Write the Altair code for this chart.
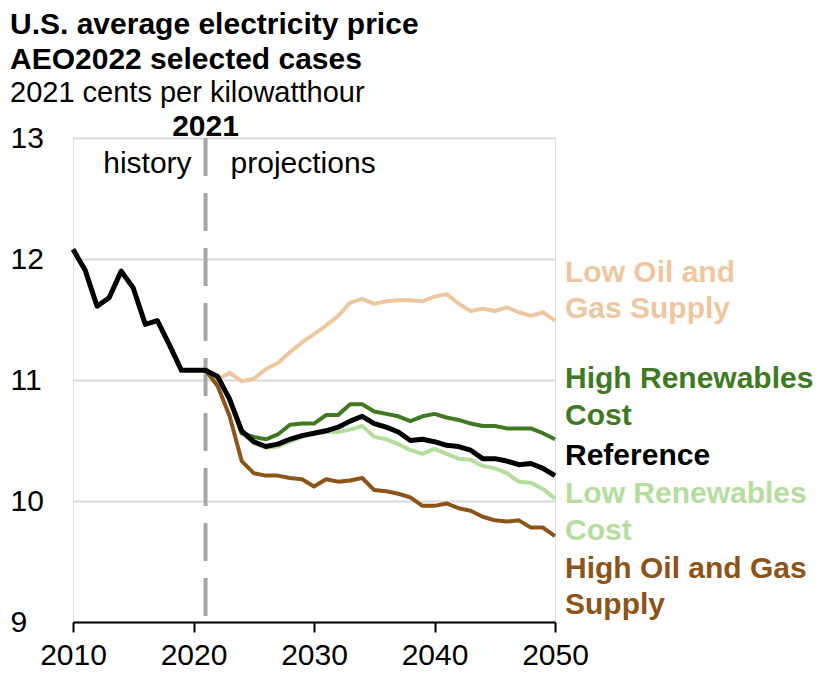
import altair as alt
import pandas as pd

FONT = "Liberation Sans"

# ---- data (2021 cents per kWh) ----
hist_years = list(range(2010, 2051))
reference = [12.08, 11.91, 11.61, 11.68, 11.90, 11.76, 11.46, 11.49, 11.29, 11.08,
             11.08, 11.08, 11.03, 10.84, 10.58, 10.49, 10.45, 10.47, 10.51, 10.54,
             10.56, 10.58, 10.61, 10.66, 10.70, 10.64, 10.61, 10.57, 10.50, 10.51,
             10.49, 10.46, 10.45, 10.42, 10.35, 10.35, 10.33, 10.30, 10.31, 10.27,
             10.21]

proj_years = list(range(2021, 2051))
high_ren_cost = [11.08, 11.02, 10.85, 10.56, 10.53, 10.51, 10.55, 10.63, 10.64, 10.64,
                 10.71, 10.71, 10.80, 10.80, 10.74, 10.72, 10.70, 10.66, 10.70, 10.72,
                 10.69, 10.67, 10.64, 10.62, 10.62, 10.60, 10.60, 10.60, 10.56, 10.51]
low_ren_cost = [11.08, 11.03, 10.84, 10.56, 10.48, 10.44, 10.45, 10.49, 10.53, 10.56,
                10.57, 10.57, 10.59, 10.62, 10.53, 10.51, 10.47, 10.42, 10.39, 10.43,
                10.39, 10.35, 10.34, 10.29, 10.27, 10.23, 10.16, 10.15, 10.10, 10.02]
high_og_supply = [11.08, 10.95, 10.70, 10.33, 10.23, 10.21, 10.21, 10.19, 10.18, 10.12,
                  10.18, 10.16, 10.17, 10.19, 10.09, 10.08, 10.06, 10.03, 9.96, 9.96,
                  9.98, 9.94, 9.92, 9.87, 9.84, 9.83, 9.84, 9.78, 9.78, 9.71]
low_og_supply = [11.08, 11.00, 11.06, 10.99, 11.01, 11.09, 11.14, 11.23, 11.31, 11.38,
                 11.45, 11.53, 11.64, 11.67, 11.63, 11.65, 11.66, 11.66, 11.65, 11.69,
                 11.71, 11.63, 11.57, 11.59, 11.57, 11.60, 11.56, 11.53, 11.56, 11.49]

cases = ["Low Oil and Gas Supply", "Low Renewables Cost", "High Oil and Gas Supply",
         "High Renewables Cost", "Reference"]
case_colors = ["#EEC7A0", "#B5DD9E", "#8C5419", "#3F7A22", "#000000"]
case_widths = [4, 4, 4, 4, 5]

# right-hand labels (one row per text line)
label_text = ["Low Oil and", "Gas Supply", "High Renewables", "Cost", "Reference",
              "Low Renewables", "Cost", "High Oil and Gas", "Supply"]
label_case = ["Low Oil and Gas Supply", "Low Oil and Gas Supply", "High Renewables Cost",
              "High Renewables Cost", "Reference", "Low Renewables Cost",
              "Low Renewables Cost", "High Oil and Gas Supply", "High Oil and Gas Supply"]
label_y = [11.81, 11.51, 10.93, 10.63, 10.30, 9.98, 9.68, 9.36, 9.07]

x_ticks = [2010, 2020, 2030, 2040, 2050]
y_ticks = [9, 10, 11, 12, 13]

# ---- tables ----
rows = []
for y, v in zip(hist_years, reference):
    rows.append({"year": y, "value": v, "case": "Reference"})
for name, vals in [("High Renewables Cost", high_ren_cost),
                   ("Low Renewables Cost", low_ren_cost),
                   ("High Oil and Gas Supply", high_og_supply),
                   ("Low Oil and Gas Supply", low_og_supply)]:
    for y, v in zip(proj_years, vals):
        rows.append({"year": y, "value": v, "case": name})
df = pd.DataFrame(rows)
labels_df = pd.DataFrame({"text": label_text, "case": label_case, "ly": label_y})

x_scale = alt.Scale(domain=[2010, 2050], nice=False, zero=False)
y_scale = alt.Scale(domain=[9, 13], nice=False, zero=False)

x_axis = alt.Axis(values=x_ticks, format="d", title=None, grid=False,
                  domainColor="black", domainWidth=2, tickColor="black",
                  tickWidth=2, tickSize=10, labelFontSize=30, labelColor="black",
                  labelFont=FONT, labelPadding=8, labelFlush=False,
                  labelOverlap=False)
y_axis = alt.Axis(values=y_ticks, format="d", title=None, domain=False, ticks=False,
                  grid=True, gridColor="#D9D9D9", gridWidth=2, labelAlign="left",
                  labelPadding=63, labelFontSize=30, labelColor="black",
                  labelFont=FONT, labelBaseline="middle", labelFlush=False,
                  labelOverlap=False)

base = alt.Chart(df)

layers = []
for name, col, w in zip(cases, case_colors, case_widths):
    layers.append(
        base.transform_filter(alt.datum.case == name)
        .mark_line(color=col, strokeWidth=w, strokeJoin="round")
        .encode(x=alt.X("year:Q", scale=x_scale, axis=x_axis),
                y=alt.Y("value:Q", scale=y_scale, axis=y_axis))
    )

rule = alt.Chart(pd.DataFrame({"year": [2021]})).mark_rule(
    color="#A6A6A6", strokeWidth=4, strokeDash=[38, 17]
).encode(x=alt.X("year:Q", scale=x_scale), y=alt.datum(13), y2=alt.datum(9))

yr_text = alt.Chart(pd.DataFrame({"year": [2021]})).mark_text(
    text="2021", font=FONT, fontSize=30, fontWeight="bold", color="black",
    baseline="alphabetic", align="center", dy=-2
).encode(x=alt.X("year:Q", scale=x_scale), y=alt.datum(13))

hist_text = alt.Chart(pd.DataFrame({"year": [2021]})).mark_text(
    text="history", font=FONT, fontSize=30, color="black",
    baseline="alphabetic", align="right", dx=-14, dy=35
).encode(x=alt.X("year:Q", scale=x_scale), y=alt.datum(13))

proj_text = alt.Chart(pd.DataFrame({"year": [2021]})).mark_text(
    text="projections", font=FONT, fontSize=30, color="black",
    baseline="alphabetic", align="left", dx=25, dy=35
).encode(x=alt.X("year:Q", scale=x_scale), y=alt.datum(13))

lab = alt.Chart(labels_df).mark_text(
    font=FONT, fontSize=30, fontWeight="bold", align="left",
    baseline="alphabetic", dx=10
).encode(
    x=alt.datum(2050),
    y=alt.Y("ly:Q", scale=y_scale),
    text="text:N",
    color=alt.Color("case:N", scale=alt.Scale(domain=cases, range=case_colors),
                    legend=None),
)

chart = alt.layer(rule, *layers, yr_text, hist_text, proj_text, lab).properties(
    width=482, height=484,
    autosize=alt.AutoSizeParams(type="none"),
    padding={"left": 65, "top": 130, "right": 262, "bottom": 50},
    title=alt.Title(
        ["U.S. average electricity price", "AEO2022 selected cases"],
        subtitle="2021 cents per kilowatthour",
        anchor="start", font=FONT, fontSize=30, fontWeight="bold",
        color="black", lineHeight=35, subtitleFont=FONT, subtitleFontSize=29,
        subtitleColor="black", subtitlePadding=4,
    ),
).configure_view(stroke=None).configure(background="white")

chart.save("out.html", embed_options={"renderer": "svg", "actions": False})
